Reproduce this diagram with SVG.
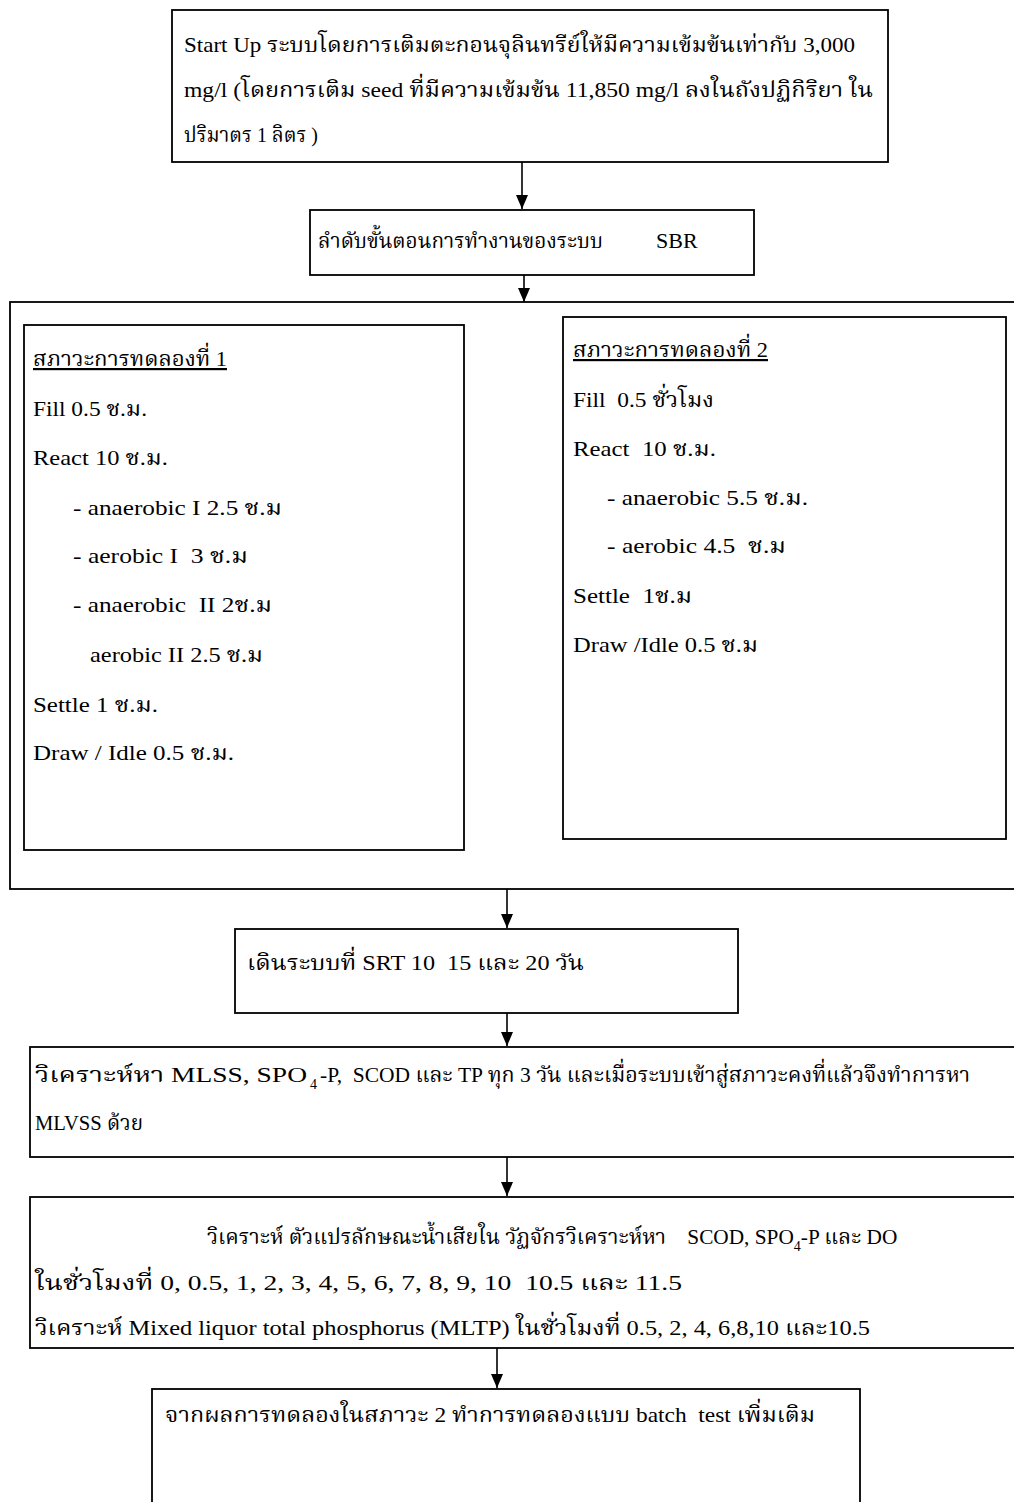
<svg xmlns="http://www.w3.org/2000/svg" width="1014" height="1502" viewBox="0 0 1014 1502">
<style>
text{font-family:"Liberation Serif","Noto Serif Thai","Noto Sans Thai","Noto Sans",serif;font-size:22px;fill:#000;white-space:pre}
.sub{font-size:14px}
.box{fill:none;stroke:#000;stroke-width:1.8}
.conn{stroke:#000;stroke-width:1.6;fill:none}
.u{text-decoration:underline}
</style>
<defs>
<marker id="ad" markerWidth="12" markerHeight="14" refX="6" refY="14" orient="0" markerUnits="userSpaceOnUse" viewBox="0 0 12 14">
<path d="M0,0 L12,0 L6,14 Z" fill="#000"/>
</marker>
</defs>
<rect width="1014" height="1502" fill="#fff"/>

<g id="connectors">
<line class="conn" x1="522" y1="162" x2="522" y2="209" marker-end="url(#ad)"/>
<line class="conn" x1="524" y1="275" x2="524" y2="302" marker-end="url(#ad)"/>
<line class="conn" x1="507" y1="889" x2="507" y2="928" marker-end="url(#ad)"/>
<line class="conn" x1="507" y1="1013" x2="507" y2="1046" marker-end="url(#ad)"/>
<line class="conn" x1="507" y1="1157" x2="507" y2="1196" marker-end="url(#ad)"/>
<line class="conn" x1="497" y1="1348" x2="497" y2="1388" marker-end="url(#ad)"/>
</g>

<g id="startup">
<rect class="box" x="172" y="10" width="716" height="152"/>
<text x="184" y="52" textLength="671" lengthAdjust="spacingAndGlyphs">Start Up ระบบโดยการเติมตะกอนจุลินทรีย์ให้มีความเข้มข้นเท่ากับ 3,000</text>
<text x="184" y="97" textLength="689" lengthAdjust="spacingAndGlyphs">mg/l (โดยการเติม seed ที่มีความเข้มข้น 11,850 mg/l ลงในถังปฏิกิริยา ใน</text>
<text x="184" y="142" textLength="134" lengthAdjust="spacingAndGlyphs">ปริมาตร 1 ลิตร )</text>
</g>

<g id="sbr">
<rect class="box" x="310" y="210" width="444" height="65"/>
<text x="318" y="248" textLength="285" lengthAdjust="spacingAndGlyphs">ลำดับขั้นตอนการทำงานของระบบ</text>
<text x="656" y="248">SBR</text>
</g>

<g id="conditions">
<rect class="box" x="10" y="302" width="1010" height="587"/>
</g>

<g id="cond1">
<rect class="box" x="24" y="325" width="440" height="525"/>
<text class="u" x="33" y="366" textLength="194" lengthAdjust="spacingAndGlyphs">สภาวะการทดลองที่ 1</text>
<text x="33" y="416" textLength="114" lengthAdjust="spacingAndGlyphs">Fill 0.5 ช.ม.</text>
<text x="33" y="465" textLength="135" lengthAdjust="spacingAndGlyphs">React 10 ช.ม.</text>
<text x="73" y="515" textLength="209" lengthAdjust="spacingAndGlyphs">- anaerobic I 2.5 ช.ม</text>
<text x="73" y="563" textLength="175" lengthAdjust="spacingAndGlyphs">- aerobic I  3 ช.ม</text>
<text x="73" y="612" textLength="199" lengthAdjust="spacingAndGlyphs">- anaerobic  II 2ช.ม</text>
<text x="90" y="662" textLength="173" lengthAdjust="spacingAndGlyphs">aerobic II 2.5 ช.ม</text>
<text x="33" y="712" textLength="125" lengthAdjust="spacingAndGlyphs">Settle 1 ช.ม.</text>
<text x="33" y="760" textLength="201" lengthAdjust="spacingAndGlyphs">Draw / Idle 0.5 ช.ม.</text>
</g>

<g id="cond2">
<rect class="box" x="563" y="317" width="443" height="522"/>
<text class="u" x="573" y="357" textLength="195" lengthAdjust="spacingAndGlyphs">สภาวะการทดลองที่ 2</text>
<text x="573" y="407" textLength="141" lengthAdjust="spacingAndGlyphs">Fill  0.5 ชั่วโมง</text>
<text x="573" y="456" textLength="143" lengthAdjust="spacingAndGlyphs">React  10 ช.ม.</text>
<text x="607" y="505" textLength="201" lengthAdjust="spacingAndGlyphs">- anaerobic 5.5 ช.ม.</text>
<text x="607" y="553" textLength="179" lengthAdjust="spacingAndGlyphs">- aerobic 4.5  ช.ม</text>
<text x="573" y="603" textLength="119" lengthAdjust="spacingAndGlyphs">Settle  1ช.ม</text>
<text x="573" y="652" textLength="185" lengthAdjust="spacingAndGlyphs">Draw /Idle 0.5 ช.ม</text>
</g>

<g id="srt">
<rect class="box" x="235" y="929" width="503" height="84"/>
<text x="247" y="970" textLength="337" lengthAdjust="spacingAndGlyphs">เดินระบบที่ SRT 10  15 และ 20 วัน</text>
</g>

<g id="analysis1">
<rect class="box" x="30" y="1047" width="990" height="110"/>
<text x="35" y="1082" textLength="272" lengthAdjust="spacingAndGlyphs">วิเคราะห์หา MLSS, SPO</text>
<text class="sub" x="310" y="1089">4</text>
<text x="320" y="1082" textLength="650" lengthAdjust="spacingAndGlyphs">-P,  SCOD และ TP ทุก 3 วัน และเมื่อระบบเข้าสู่สภาวะคงที่แล้วจึงทำการหา</text>
<text x="35" y="1130" textLength="108" lengthAdjust="spacingAndGlyphs">MLVSS ด้วย</text>
</g>

<g id="analysis2">
<rect class="box" x="30" y="1197" width="990" height="151"/>
<text x="207" y="1244" style="font-size:21.3px">วิเคราะห์ ตัวแปรลักษณะน้ำเสียใน วัฏจักรวิเคราะห์หา    SCOD, SPO<tspan class="sub" dy="7">4</tspan><tspan dy="-7">-P และ DO</tspan></text>
<text x="35" y="1290" textLength="647" lengthAdjust="spacingAndGlyphs">ในชั่วโมงที่ 0, 0.5, 1, 2, 3, 4, 5, 6, 7, 8, 9, 10  10.5 และ 11.5</text>
<text x="35" y="1335" textLength="835" lengthAdjust="spacingAndGlyphs">วิเคราะห์ Mixed liquor total phosphorus (MLTP) ในชั่วโมงที่ 0.5, 2, 4, 6,8,10 และ10.5</text>
</g>

<g id="batch">
<rect class="box" x="152" y="1389" width="708" height="116"/>
<text x="165" y="1422" textLength="650" lengthAdjust="spacingAndGlyphs">จากผลการทดลองในสภาวะ 2 ทำการทดลองแบบ batch  test เพิ่มเติม</text>
</g>
</svg>
